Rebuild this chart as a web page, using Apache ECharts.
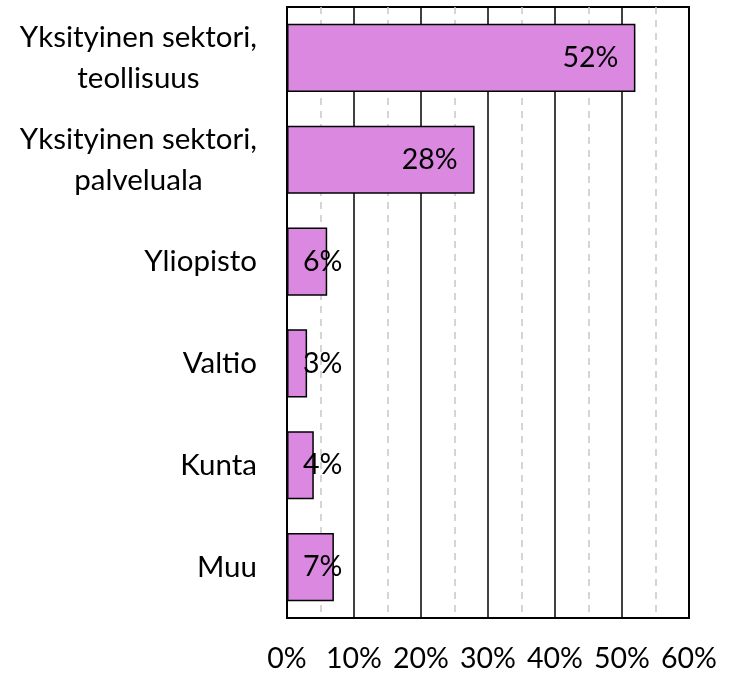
<!DOCTYPE html>
<html>
<head>
<meta charset="utf-8">
<script src="https://cdn.jsdelivr.net/npm/echarts@6/dist/echarts.min.js"></script>
<style>
  html, body { margin: 0; padding: 0; background: #fff; }
  #main { width: 734px; height: 674px; }
</style>
</head>
<body>
<div id="main"></div>
<script>
// categories top to bottom
var categories = [
    'Yksityinen sektori,\nteollisuus',
    'Yksityinen sektori,\npalveluala',
    'Yliopisto',
    'Valtio',
    'Kunta',
    'Muu'
];
var shares = [52, 28, 6, 3, 4, 7];

var FONT = 'Lato';
var chart = echarts.init(document.getElementById('main'), null, { renderer: 'canvas' });

var option = {
    animation: false,
    backgroundColor: '#fff',
    textStyle: { fontFamily: FONT },
    grid: {
        left: 287, right: 45, top: 7, bottom: 56,
        show: true, borderColor: '#000', borderWidth: 2,
        containLabel: false
    },
    xAxis: {
        type: 'value',
        min: 0, max: 60, interval: 10,
        axisLine: { show: false },
        axisTick: { show: false },
        axisLabel: {
            formatter: '{value}%',
            color: '#000', fontSize: 28.5, fontFamily: FONT, margin: 26
        },
        splitLine: { show: true, lineStyle: { color: '#000', width: 1.5 } },
        minorTick: { show: false, splitNumber: 2 },
        minorSplitLine: { show: true, lineStyle: { color: '#C8C8C8', width: 1.5, type: [7, 6] } }
    },
    yAxis: {
        type: 'category',
        data: categories,
        inverse: true,
        axisLine: { show: true, lineStyle: { color: '#000', width: 2 } },
        axisTick: { show: false },
        axisLabel: {
            margin: 30,
            formatter: function (v) { return '{c|' + v + '}'; },
            rich: {
                c: { align: 'center', color: '#000', fontSize: 29.5, fontFamily: FONT, lineHeight: 41 }
            }
        }
    },
    series: [{
        type: 'bar',
        barCategoryGap: '33%',
        itemStyle: { color: '#DA88E0', borderColor: '#000', borderWidth: 1.5 },
        data: shares.map(function (v) {
            return {
                value: v,
                label: v >= 10
                    ? { position: 'insideRight', distance: 17 }
                    : { position: 'insideLeft', distance: 16 }
            };
        }),
        label: {
            show: true,
            formatter: '{c}%',
            color: '#000', fontSize: 28.5, fontFamily: FONT
        },
        z: 3
    }]
};
chart.setOption(option);
</script>
</body>
</html>
